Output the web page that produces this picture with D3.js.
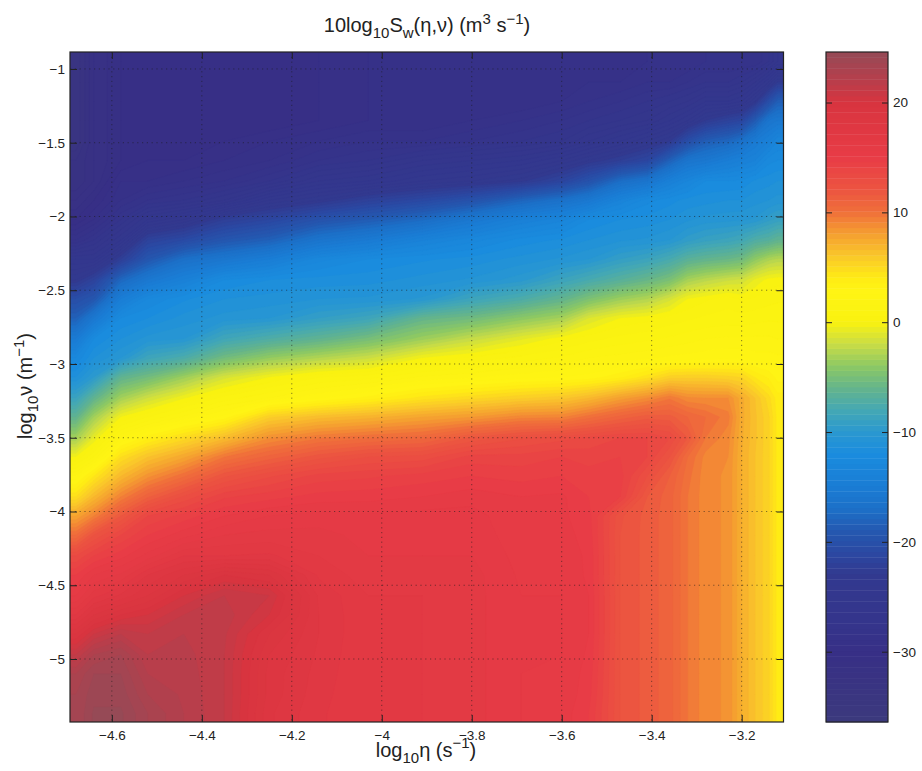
<!DOCTYPE html>
<html><head><meta charset="utf-8">
<style>html,body{margin:0;background:#fff}svg{display:block}text{font-family:"Liberation Sans",Arial,sans-serif;fill:#222}</style>
<script src="https://cdn.jsdelivr.net/npm/d3@7"></script></head><body>
<script>
const etaValues=[-4.68,-4.64,-4.58,-4.52,-4.44,-4.35,-4.25,-4.14,-4.03,-3.91,-3.80,-3.69,-3.60,-3.54,-3.47,-3.41,-3.36,-3.32,-3.28,-3.23,-3.20,-3.17,-3.14,-3.12];
const nuValues=[-0.95,-1.09,-1.22,-1.35,-1.49,-1.62,-1.76,-1.89,-2.02,-2.16,-2.29,-2.43,-2.56,-2.69,-2.83,-2.96,-3.09,-3.23,-3.36,-3.50,-3.63,-3.76,-3.90,-4.03,-4.16,-4.30,-4.43,-4.57,-4.70,-4.83,-4.97,-5.10,-5.24,-5.37];
// power in dB, one list per eta column, top to bottom
const spectrumDb=[
[-33,-33,-33,-33,-33,-32,-32,-31,-30,-28,-25,-23,-20,-18,-15,-12.5,-11,-8.5,-6,-3,0,2.5,5,8,10.5,13.5,15,16,17.5,19.5,21.5,23,23.5,23.5],
[-31,-31,-31,-31,-31,-31,-31,-30,-29,-27,-25,-21.5,-19,-15.5,-12,-11,-9.5,-6,-3,-0.5,1.5,4.5,7,9.5,12.5,14.5,16,17.3,19,21,23,24,24.3,24.6],
[-30,-30,-30,-30,-30,-30,-29,-28.5,-27,-25,-22,-17.5,-14.5,-12,-11,-10,-6,-3,0,2.4,5,7,9.5,12,14,15.3,16.6,18.1,20,22,23.5,24,24.3,24.6],
[-30,-30,-30,-30,-30,-29.5,-29,-27.5,-25,-21.5,-19,-15.5,-12.5,-11.5,-10.3,-8.2,-5,-1.5,1,3.8,6.5,8.8,11.4,14,15,16.2,18,19,20.5,21.5,22,22.5,23,23.5],
[-30,-30,-30,-30,-30,-29.5,-28.5,-27,-24,-20.5,-16.7,-13.9,-11.6,-10.8,-10,-7.2,-3.2,-0.1,2.1,5.2,7.9,10.4,13.1,14.7,15.8,17.5,19,20.5,21.5,22,22.2,22.3,22.4,22.5],
[-30,-30,-30,-30,-29.5,-29,-28,-26,-22,-19,-15.7,-12,-11,-10.3,-8,-5,-1.2,1.2,3.2,6.8,10,12.4,14.4,15.5,16.5,17.5,20,21.5,21.8,21.6,21.5,21.5,21.5,21.5],
[-30,-30,-30,-30,-29,-28.5,-27,-24,-21,-18,-14.5,-11.5,-10.8,-10,-7,-3.5,0,2,5.9,8.9,11.2,13.4,14.8,16,16.7,17.6,19.5,21,20.5,19.5,19,18.8,18.8,18.6],
[-29.5,-29.5,-29.5,-29.5,-28.5,-27.5,-25.5,-23,-19.5,-16,-12.7,-11.3,-10.5,-9,-6,-2.5,1,2.9,6.8,9.9,12.3,14.2,15.2,16.2,16.7,17,17.4,17.9,18,18,17.9,17.8,17.7,17.6],
[-29,-29,-29,-29,-28,-27,-25,-21.7,-18.5,-15,-12,-11.2,-10.4,-8.2,-4.8,-1.6,1.3,3.7,7.3,10.4,13,14.4,15.3,16.1,16.3,16.5,16.7,17,17,17,17,17,17,17],
[-29,-29,-29,-29,-28,-26,-24,-20.7,-17.2,-13.6,-11.6,-10.8,-9.9,-5.8,-3.2,0,2.1,4.7,8,10.8,13.2,14.7,15.5,16.2,16.3,16.5,16.7,17,17,17,17,17,17,17],
[-29,-29,-29,-28.5,-27.5,-25.5,-23.5,-19.5,-15.5,-12.7,-11.3,-10.4,-8.3,-5.1,-1.8,0.6,2.4,5.3,8.5,12.1,14.2,15,15.8,16.2,16.3,16.5,16.7,16.7,16.7,16.7,16.7,16.7,16.7,16.7],
[-29,-29,-29,-28,-27,-25,-22.7,-17.7,-14,-11.8,-10.8,-9.7,-7.2,-3.8,-0.6,1.2,2.8,5.9,9.3,12.9,14.2,14.8,15.5,15.6,15.7,15.8,15.9,16,16,16,16,16,16,16],
[-29,-29,-28.5,-27.5,-26.5,-24,-21.2,-16.5,-13.2,-11.4,-10.4,-8.4,-5.9,-2.9,0.3,1.6,3,6.3,9.4,13.3,14.5,15,15.6,15.6,15.7,15.8,15.9,16,16,16,16,15.9,15.9,15.8],
[-29,-28.5,-28,-27,-25.5,-23,-19.5,-15.4,-12,-11,-10,-7.5,-4.5,-1,0.8,2,3.2,7,10.3,13.6,14.3,14.7,15,15.2,15.3,15.4,15.4,15.5,15.5,15.5,15.4,15.3,15.2,15],
[-29,-28.5,-27.5,-26.5,-24.5,-22,-17,-13.4,-11.5,-10.6,-9,-6.5,-3.2,0,1.2,2.2,3.9,8.2,11.2,14,14.5,14.7,14.5,12.6,12.5,12.5,12.5,12.5,12.5,12.5,12.5,12.5,12.5,12.5],
[-28.5,-28,-27,-26,-23.5,-21,-16,-12.2,-11.3,-10.4,-8.4,-5.6,-2.5,0.3,1.4,2.4,4.8,9,11.8,14,14,13,12,11.8,11.8,11.8,11.8,11.8,11.8,11.8,11.8,11.8,11.8,11.8],
[-28.5,-28,-26.5,-25,-22.5,-18,-14,-11.7,-11,-10,-7.5,-4.6,-1.2,0.7,1.6,2.6,5.8,9.9,11.7,13.5,12.5,11.5,11.2,11.2,11.2,11.2,11.2,11.2,11.2,11.2,11.2,11.2,11.2,11.2],
[-28.5,-27.5,-26,-24,-20,-16,-13,-11.3,-10.6,-9.2,-6.4,-2.9,0,0.9,1.8,2.7,5.9,9.1,11,12,10.5,10.2,10,10,10,10,10,10,10,10,10,10,10,10],
[-28,-27,-25,-22.5,-18.3,-15.5,-12,-11.2,-10.3,-8.7,-5.9,-2.2,0.4,1.1,2,2.8,5.9,9,10.5,10,9.3,9.2,9.2,9.2,9.2,9.2,9.2,9.2,9.2,9.2,9.2,9.2,9.2,9.2],
[-28,-27,-25,-21.5,-17.5,-14.5,-12,-11,-10.2,-8.3,-5.5,-1.6,0.8,1.2,2.1,2.9,5.7,9,9.7,9.2,9,8.9,8.9,8.9,8.9,8.9,8.9,8.9,8.9,8.9,8.9,8.9,8.9,8.9],
[-28,-26.5,-24.5,-21,-16.5,-14,-11.9,-11,-10.1,-7.9,-5.1,-1.4,0.4,1.2,2.1,2.9,5.5,7.7,7.7,7.6,7.5,7.5,7.5,7.5,7.5,7.5,7.5,7.5,7.5,7.5,7.5,7.5,7.5,7.5],
[-28,-25.5,-23,-18.5,-15,-13.5,-11.4,-10.7,-9.9,-7,-3.7,-0.4,0.6,1.3,2.1,2.7,4.5,6.5,6.6,6.6,6.5,6.5,6.5,6.5,6.5,6.5,6.5,6.5,6.5,6.5,6.5,6.5,6.5,6.5],
[-27,-24,-20,-16,-14,-12.2,-11.2,-10.5,-9.2,-6.6,-2.7,0.2,0.8,1.4,2.1,2.7,3.9,5.2,5.6,5.6,5.6,5.6,5.6,5.6,5.6,5.6,5.6,5.6,5.6,5.6,5.6,5.6,5.6,5.6],
[-26,-22.5,-18.2,-15.5,-13,-12,-11,-10.3,-8.8,-6,-2.4,0.3,0.9,1.4,2,2.6,3.3,4.2,4.3,4.3,4.3,4.3,4.3,4.3,4.3,4.3,4.3,4.3,4.3,4.3,4.3,4.3,4.3,4.3]
];
const etaTicks=[-4.6,-4.4,-4.2,-4,-3.8,-3.6,-3.4,-3.2];
const nuTicks=[-1,-1.5,-2,-2.5,-3,-3.5,-4,-4.5,-5];
const barTicks=[20,10,0,-10,-20,-30];
const colorLevels=[-37,-30,-27,-23,-21,-19,-17,-15,-12,-10,-8,-6,-4,-2,0,3,4,6,8,10,12,15,20,22,25];
const colorStops=["#3c3a7c","#372f86","#34358c","#32398f","#2b48a2","#2458b0","#1c70c8","#1a7cd4","#1a8cde","#2a98d0","#44a8b4","#64b48c","#8cc864","#c8dc46","#f9f210","#fff414","#ffec14","#fac82a","#f5a030","#f0703a","#ec5540","#e83c46","#d8343f","#b83e4b","#8f4c58"];

const W=922,H=771,L=70,R=783.5,T=52,B=722,BL=826,BR=888;
const color=d3.scaleLinear().domain(colorLevels).range(colorStops).interpolate(d3.interpolateRgb).clamp(true);
const x=d3.scaleLinear().domain([-4.693,-3.107]).range([L,R]);
const y=d3.scaleLinear().domain([-0.885,-5.427]).range([T,B]);
const yBar=d3.scaleLinear().domain([24.6,-36.4]).range([T,B]);
const svg=d3.select("body").append("svg").attr("width",W).attr("height",H);
svg.append("defs").append("clipPath").attr("id","plot").append("rect").attr("x",L).attr("y",T).attr("width",R-L).attr("height",B-T);

// filled iso-bands of the matrix; edge rows/columns repeated once so the bands reach the frame
const nCols=etaValues.length,nRows=nuValues.length;
const flat=[];
for(let j=-1;j<=nRows;j++)for(let i=-1;i<=nCols;i++){
  flat.push(spectrumDb[Math.max(0,Math.min(nCols-1,i))][Math.max(0,Math.min(nRows-1,j))]);
}
const [e0,e1]=x.domain(),[n0,n1]=y.domain();
const colToEta=d3.scaleLinear().domain([0.5,1,...etaValues.map((_,i)=>i+1.5),nCols+1,nCols+1.5]).range([e0-.02,e0,...etaValues,e1,e1+.02]);
const rowToNu=d3.scaleLinear().domain([0.5,1,...nuValues.map((_,j)=>j+1.5),nRows+1,nRows+1.5]).range([n0+.05,n0,...nuValues,n1,n1-.05]);
const thresholds=d3.range(-37,25,0.5);
const bands=d3.contours().size([nCols+2,nRows+2]).smooth(true).thresholds(thresholds)(flat);
const path=d3.geoPath(d3.geoTransform({point(a,b){this.stream.point(x(colToEta(a)),y(rowToNu(b)));}}));
svg.append("g").attr("clip-path","url(#plot)").selectAll("path").data(bands).join("path")
  .attr("d",path).attr("fill",d=>color(d.value)).attr("stroke",d=>color(d.value)).attr("stroke-width",0.3);

// grid
const grid=svg.append("g").attr("fill","none").attr("stroke","#1c1c1c").attr("stroke-dasharray","1.2 3.6").attr("stroke-opacity",.55);
grid.selectAll(".gx").data(etaTicks).join("line").attr("x1",d=>x(d)).attr("x2",d=>x(d)).attr("y1",T).attr("y2",B);
grid.selectAll(".gy").data(nuTicks).join("line").attr("y1",d=>y(d)).attr("y2",d=>y(d)).attr("x1",L).attr("x2",R);

// axes
function styleAxis(g){g.select(".domain").remove();g.selectAll("line").attr("stroke","#222");g.selectAll("text").attr("font-size",13.5).attr("font-family","Liberation Sans").attr("fill","#222");}
function noLabels(g){g.selectAll("text").remove();}
const fmt=d3.format("");
svg.append("g").attr("transform",`translate(0,${B})`).call(d3.axisBottom(x).tickValues(etaTicks).tickFormat(fmt).tickSizeInner(-7).tickSizeOuter(0).tickPadding(8)).call(styleAxis);
svg.append("g").attr("transform",`translate(${L},0)`).call(d3.axisLeft(y).tickValues(nuTicks).tickFormat(fmt).tickSizeInner(-7).tickSizeOuter(0).tickPadding(5)).call(styleAxis);
svg.append("g").attr("transform",`translate(${R},0)`).call(d3.axisRight(y).tickValues(nuTicks).tickSizeInner(-7).tickSizeOuter(0)).call(styleAxis).call(noLabels);
svg.append("g").attr("transform",`translate(0,${T})`).call(d3.axisTop(x).tickValues(etaTicks).tickSizeInner(-7).tickSizeOuter(0)).call(styleAxis).call(noLabels);
svg.append("rect").attr("x",L).attr("y",T).attr("width",R-L).attr("height",B-T).attr("fill","none").attr("stroke","#222").attr("stroke-width",1.2);

// colour bar
const barLevels=d3.range(-36.4,24.6,0.5);
svg.append("g").selectAll("rect").data(barLevels).join("rect")
  .attr("x",BL).attr("width",BR-BL).attr("y",d=>yBar(d+.5)).attr("height",d=>yBar(d)-yBar(d+.5)+.4).attr("fill",d=>color(d+.25));
svg.append("g").attr("transform",`translate(${BR},0)`).call(d3.axisRight(yBar).tickValues(barTicks).tickFormat(fmt).tickSizeInner(-6).tickSizeOuter(0).tickPadding(5)).call(styleAxis);
svg.append("g").attr("transform",`translate(${BL},0)`).call(d3.axisLeft(yBar).tickValues(barTicks).tickSizeInner(-6).tickSizeOuter(0)).call(styleAxis).call(noLabels);
svg.append("rect").attr("x",BL).attr("y",T).attr("width",BR-BL).attr("height",B-T).attr("fill","none").attr("stroke","#222").attr("stroke-width",1.2);

// titles with sub/superscripts
function rich(t,parts,big,small,supUp){
  let carry=0;
  parts.forEach(([s,k])=>{
    const off=k==="sub"?6:k==="sup"?-supUp:0;
    t.append("tspan").attr("dy",off+carry).attr("font-size",k?small:big).text(s);
    carry=-off;
  });
}
const title=svg.append("text").attr("x",427).attr("y",32).attr("text-anchor","middle");
rich(title,[["10log"],["10","sub"],["S"],["w","sub"],["(η,ν) (m"],["3","sup"],[" s"],["−1","sup"],[")"]],20,15,8);
const xl=svg.append("text").attr("x",426).attr("y",757).attr("text-anchor","middle");
rich(xl,[["log"],["10","sub"],["η (s"],["−1","sup"],[")"]],20,15,9);
const yl=svg.append("text").attr("transform","translate(32,386) rotate(-90)").attr("text-anchor","middle");
rich(yl,[["log"],["10","sub"],["ν (m"],["−1","sup"],[")"]],20,15,8);
</script></body></html>
